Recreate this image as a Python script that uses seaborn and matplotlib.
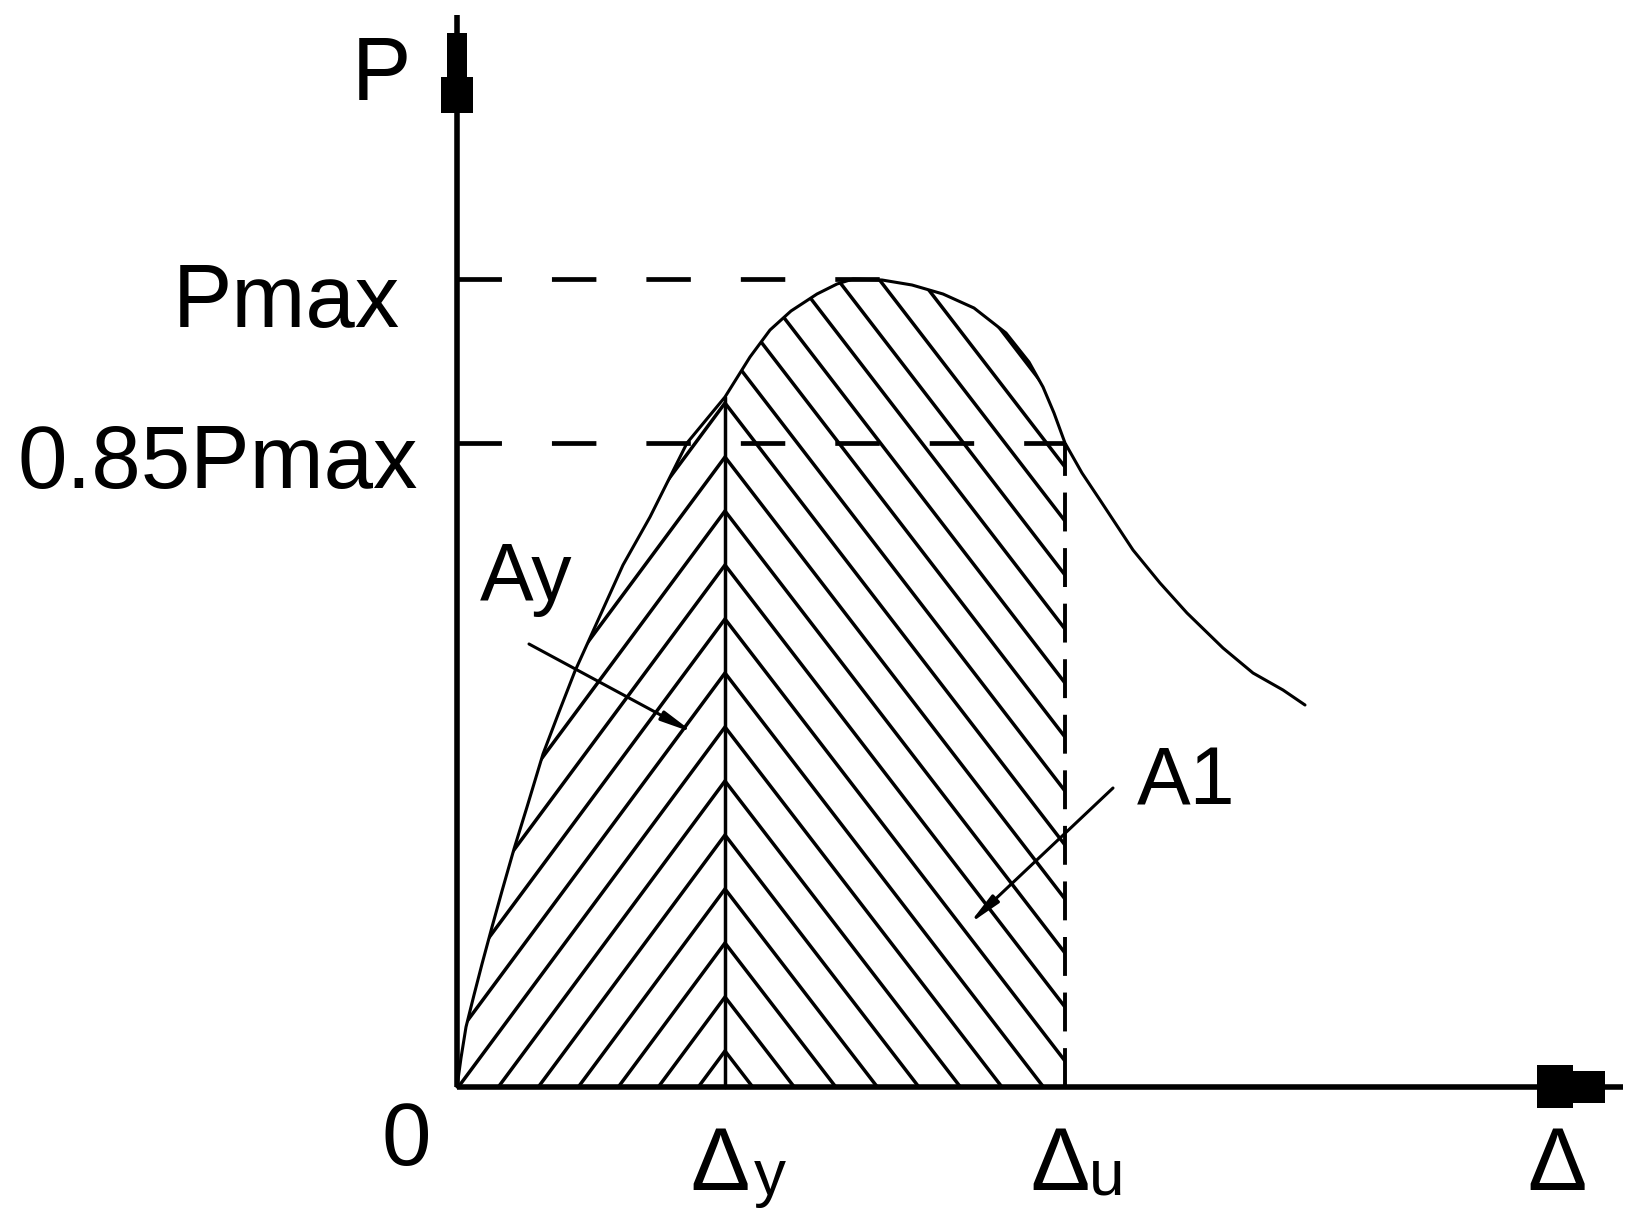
import numpy as np
import pandas as pd
import matplotlib
matplotlib.use("Agg")
import matplotlib.pyplot as plt
import seaborn as sns
from matplotlib.patches import Polygon

# ---------------- data (1 unit = 100 px of the reference drawing) ----------------
disp = [0.00, 0.04, 0.09, 0.17, 0.25, 0.35, 0.45, 0.57, 0.70, 0.86, 1.02, 1.18, 1.42, 1.66,
        1.93, 2.13, 2.30, 2.68, 2.93, 3.13, 3.34, 3.60, 3.80, 3.96, 4.25, 4.55, 4.86, 5.17,
        5.49, 5.72, 5.86, 5.97, 6.08, 6.25, 6.43, 6.76, 7.03, 7.30, 7.66, 7.96, 8.26, 8.48]
load = [0.00, 0.29, 0.60, 0.92, 1.23, 1.60, 1.96, 2.38, 2.80, 3.33, 3.75, 4.16, 4.69, 5.22,
        5.70, 6.10, 6.44, 6.90, 7.30, 7.57, 7.76, 7.93, 8.03, 8.08, 8.07, 8.02, 7.93, 7.79,
        7.54, 7.25, 7.00, 6.74, 6.44, 6.14, 5.87, 5.37, 5.04, 4.74, 4.39, 4.14, 3.97, 3.82]
P_max = 8.08
P_085 = 6.44
delta_y = 2.68
delta_u = 6.08
tick_labels_y = ["Pmax", "0.85Pmax"]
tick_labels_x = ["Δ", "Δ"]
subs_x = ["y", "u"]
area_labels = ["Ay", "A1"]

df = pd.DataFrame({"disp": disp, "load": load})

# ---------------- figure ----------------
W, H = 1643, 1230
sns.set_theme(style="white")
plt.rcParams["font.family"] = ["Liberation Sans", "DejaVu Sans"]
plt.rcParams["lines.scale_dashes"] = False
fig = plt.figure(figsize=(W / 100, H / 100), dpi=100)
ax = fig.add_axes([0, 0, 1, 1])
ox, oy = 4.57, 10.87  # origin position (units) from left / top edge
ax.set_xlim(-ox, W / 100 - ox)
ax.set_ylim(oy - H / 100, oy)
ax.axis("off")

K = "black"
lw_axis = 4.0
lw_curve = 2.2
lw_hatch = 2.5

# curve
sns.lineplot(data=df, x="disp", y="load", ax=ax, color=K, lw=lw_curve, sort=False,
             estimator=None, legend=False)

# ---------------- hatched regions ----------------
d = np.array(disp)
l = np.array(load)
left_mask = d <= delta_y
right_mask = (d >= delta_y) & (d <= delta_u)
left_pts = list(zip(d[left_mask], l[left_mask])) + [(delta_y, 0.0)]
right_pts = [(delta_y, 0.0)] + list(zip(d[right_mask], l[right_mask])) + [(delta_u, 0.0)]
poly_left = Polygon(left_pts, closed=True, fc="none", ec="none")
poly_right = Polygon(right_pts, closed=True, fc="none", ec="none")
ax.add_patch(poly_left)
ax.add_patch(poly_right)

m1, m2 = 1.35, 1.30   # slopes of "/" and "\" hatch lines
s_v = 0.54            # vertical spacing at delta_y
y0 = 0.36
for k in range(-3, 25):
    yk = y0 + k * s_v
    xs = np.array([delta_y - 12, delta_y + 12])
    ln, = ax.plot(xs, yk + m1 * (xs - delta_y), color=K, lw=lw_hatch)
    ln.set_clip_path(poly_left)
    ln, = ax.plot(xs, yk - m2 * (xs - delta_y), color=K, lw=lw_hatch)
    ln.set_clip_path(poly_right)

# vertical at delta_y and dashed vertical at delta_u
ax.plot([delta_y, delta_y], [0, np.interp(delta_y, disp, load)], color=K, lw=lw_hatch)
ax.plot([delta_u, delta_u], [0, P_085], color=K, lw=2.8, dashes=(28, 12))

# dashed reference lines
ax.plot([0, 4.38], [P_max, P_max], color=K, lw=3.4, dashes=(32, 36))
ax.plot([0, delta_u], [P_085, P_085], color=K, lw=3.4, dashes=(32, 36))

# ---------------- axes with arrows ----------------
ax.plot([0, 11.66], [0, 0], color=K, lw=lw_axis, solid_capstyle="butt")
ax.plot([0, 0], [0, 10.72], color=K, lw=lw_axis, solid_capstyle="butt")
ax.fill([10.80, 11.16, 11.16, 11.48, 11.48, 11.16, 11.16, 10.80],
        [0.215, 0.215, 0.16, 0.16, -0.16, -0.16, -0.215, -0.215], color=K, lw=0)
ax.fill([-0.16, 0.16, 0.16, 0.10, 0.10, -0.10, -0.10, -0.16],
        [9.74, 9.74, 10.10, 10.10, 10.54, 10.54, 10.10, 10.10], color=K, lw=0)

# ---------------- labels ----------------
fs = 64
ax.text(-0.76, 9.87, "P", fontsize=fs, ha="center", va="baseline", color=K)
ax.text(-0.51, -0.78, "0", fontsize=fs, ha="center", va="baseline", color=K)
ax.text(-0.57, 7.60, tick_labels_y[0], fontsize=fs, ha="right", va="baseline", color=K)
ax.text(-0.39, 5.99, tick_labels_y[1], fontsize=fs, ha="right", va="baseline", color=K)

for xc, lab, sub, dx in zip([delta_y, delta_u], tick_labels_x, subs_x, [0.29, 0.24]):
    ax.text(xc - 0.05, -1.03, lab, fontsize=fs, ha="center", va="baseline", color=K)
    ax.text(xc + dx, -1.08, sub, fontsize=46, ha="left", va="baseline", color=K)
ax.text(11.00, -1.03, "Δ", fontsize=fs, ha="center", va="baseline", color=K)

ax.text(0.23, 4.87, area_labels[0], fontsize=58, ha="left", va="baseline", color=K)
ax.text(6.80, 2.82, area_labels[1], fontsize=58, ha="left", va="baseline", color=K)

arrow_kw = dict(arrowstyle="-|>,head_length=1.6,head_width=0.25", color=K, lw=lw_curve,
                shrinkA=0, shrinkB=0)
ax.annotate("", xy=(2.37, 3.54), xytext=(0.72, 4.43), arrowprops=arrow_kw)
ax.annotate("", xy=(5.12, 1.63), xytext=(6.56, 2.99), arrowprops=arrow_kw)

fig.savefig("out.png", dpi=100, facecolor="white")
